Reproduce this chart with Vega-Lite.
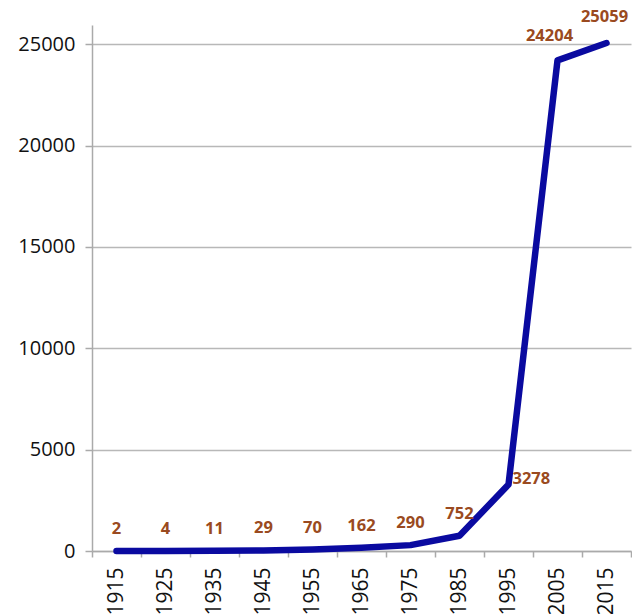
{
  "$schema": "https://vega.github.io/schema/vega-lite/v6.json",
  "autosize": "none",
  "padding": {"left": 92, "top": 25, "right": 1, "bottom": 63},
  "width": 539,
  "height": 526,
  "background": "white",
  "data": {
    "values": [
      {"year": "1915", "count": 2},
      {"year": "1925", "count": 4},
      {"year": "1935", "count": 11},
      {"year": "1945", "count": 29},
      {"year": "1955", "count": 70},
      {"year": "1965", "count": 162},
      {"year": "1975", "count": 290},
      {"year": "1985", "count": 752},
      {"year": "1995", "count": 3278},
      {"year": "2005", "count": 24204},
      {"year": "2015", "count": 25059}
    ]
  },
  "encoding": {
    "x": {
      "field": "year",
      "type": "ordinal",
      "title": null,
      "scale": {"paddingInner": 0, "paddingOuter": 0},
      "axis": {
        "labelAngle": -90,
        "labelFont": "Open Sans",
        "labelFontSize": 21,
        "labelColor": "#111",
        "labelPadding": 10,
        "labelAlign": "right",
        "labelBaseline": "middle",
        "tickBand": "extent",
        "tickSize": 6,
        "tickColor": "#aaa",
        "tickWidth": 1.5,
        "domainColor": "#aaa",
        "domainWidth": 1.5,
        "grid": false
      }
    },
    "y": {
      "field": "count",
      "type": "quantitative",
      "title": null,
      "scale": {"domain": [0, 25950], "nice": false},
      "axis": {
        "values": [0, 5000, 10000, 15000, 20000, 25000],
        "format": "d",
        "labelFont": "Open Sans",
        "labelFontSize": 20,
        "labelColor": "#111",
        "labelPadding": 10,
        "tickSize": 7,
        "tickColor": "#aaa",
        "tickWidth": 1.5,
        "domainColor": "#aaa",
        "domainWidth": 1.5,
        "gridColor": "#b8b8b8",
        "gridWidth": 1.5
      }
    }
  },
  "layer": [
    {
      "mark": {"type": "line", "color": "#0a0aa0", "strokeWidth": 6.5, "strokeJoin": "round", "strokeCap": "round"}
    },
    {
      "transform": [{"filter": "datum.count < 1000"}],
      "mark": {"type": "text", "font": "Open Sans", "fontSize": 16.5, "fontWeight": "bold", "color": "#9a4a20", "dy": -22},
      "encoding": {"text": {"field": "count", "type": "quantitative", "format": "d"}}
    },
    {
      "transform": [{"filter": "datum.year == '1995'"}],
      "mark": {"type": "text", "font": "Open Sans", "fontSize": 16.5, "fontWeight": "bold", "color": "#9a4a20", "align": "left", "dx": 4, "dy": -6},
      "encoding": {"text": {"field": "count", "type": "quantitative", "format": "d"}}
    },
    {
      "transform": [{"filter": "datum.year == '2005'"}],
      "mark": {"type": "text", "font": "Open Sans", "fontSize": 16.5, "fontWeight": "bold", "color": "#9a4a20", "dx": -8, "dy": -24},
      "encoding": {"text": {"field": "count", "type": "quantitative", "format": "d"}}
    },
    {
      "transform": [{"filter": "datum.year == '2015'"}],
      "mark": {"type": "text", "font": "Open Sans", "fontSize": 16.5, "fontWeight": "bold", "color": "#9a4a20", "dx": -2, "dy": -26},
      "encoding": {"text": {"field": "count", "type": "quantitative", "format": "d"}}
    }
  ],
  "config": {"view": {"stroke": null}}
}
